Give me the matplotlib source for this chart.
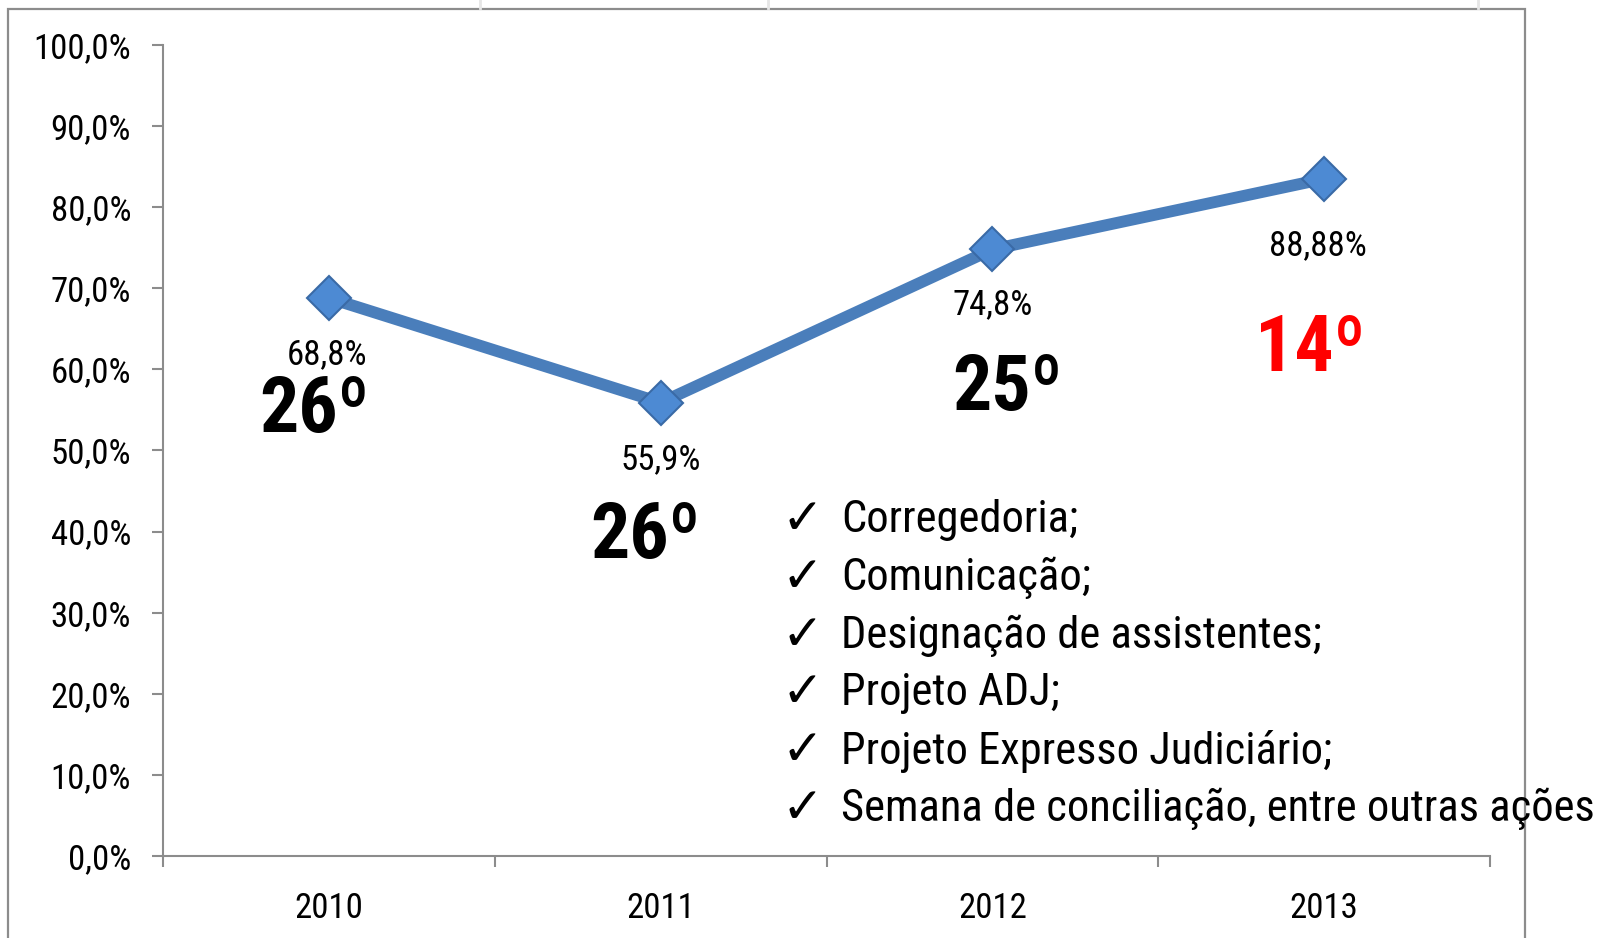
import matplotlib
matplotlib.use("Agg")
import matplotlib.pyplot as plt
from matplotlib.patches import Rectangle
from matplotlib.ticker import FuncFormatter

plt.rcParams['font.family'] = ['Liberation Sans Narrow', 'Roboto Condensed', 'Archivo Narrow',
                               'PT Sans Narrow', 'DejaVu Sans']

# data
years = ['2010', '2011', '2012', '2013']
values = [68.8, 55.9, 74.8, 83.5]
value_labels = ['68,8%', '55,9%', '74,8%', '88,88%']
ranks = ['26º', '26º', '25º', '14º']
rank_colors = ['black', 'black', 'black', '#ff0000']
actions = ['Corregedoria;', 'Comunicação;', 'Designação de assistentes;',
           'Projeto ADJ;', 'Projeto Expresso Judiciário;',
           'Semana de conciliação, entre outras ações']

W, H = 1602, 938
fig = plt.figure(figsize=(W / 100, H / 100), dpi=100)

# outer frame of the chart area
fig.patches.append(Rectangle((8 / W, -0.05), (1525 - 8) / W, 1.05 - 9 / H,
                             transform=fig.transFigure, fill=False,
                             edgecolor='#8c8c8c', lw=1.6))
for xp in [480, 768, 1478]:
    fig.add_artist(plt.Line2D([xp / W, xp / W], [1 - 8 / H, 1.0],
                              transform=fig.transFigure, color='#e6e6e6', lw=2))

ax = fig.add_axes([163 / W, 1 - 856 / H, (1490 - 163) / W, (856 - 45) / H])
x = list(range(len(years)))
ax.plot(x, values, color='#4a7ebb', lw=8.5, marker='D', markersize=22,
        markerfacecolor='#4d8ad3', markeredgecolor='#3a6aa6', markeredgewidth=1.5,
        solid_joinstyle='miter', zorder=3)

ax.set_xlim(-0.5, len(years) - 0.5)
ax.set_ylim(0, 100)
ax.set_yticks(range(0, 101, 10))
ax.yaxis.set_major_formatter(FuncFormatter(lambda v, p: f'{v:.1f}'.replace('.', ',') + '%'))
ax.set_xticks(x)
ax.set_xticklabels(years)
ax.set_xticks([i - 0.5 for i in range(len(years) + 1)], minor=True)
ax.tick_params(axis='x', which='major', length=0, pad=26, labelsize=25)
ax.tick_params(axis='x', which='minor', length=8, width=1.5, color='#8c8c8c', direction='out')
ax.tick_params(axis='y', length=8, width=1.5, color='#8c8c8c', pad=15, labelsize=25)
for s in ['top', 'right']:
    ax.spines[s].set_visible(False)
for s in ['left', 'bottom']:
    ax.spines[s].set_color('#8c8c8c')
    ax.spines[s].set_linewidth(1.5)
ax.patch.set_visible(False)

val_off = [(-2, -57), (0, -57), (0, -55), (-6, -67)]
rank_off = [(-15, -113), (-15, -134), (15, -140), (-14, -171)]
for i, v in enumerate(values):
    ax.annotate(value_labels[i], (i, v), xytext=val_off[i], textcoords='offset pixels',
                ha='center', va='center', fontsize=25)
    ax.annotate(ranks[i], (i, v), xytext=rank_off[i], textcoords='offset pixels',
                ha='center', va='center', fontsize=56, fontweight='bold',
                color=rank_colors[i])

for k, a in enumerate(actions):
    yy = 1 - (520 + 57.8 * k) / H
    fig.text(802 / W, yy, '✓', ha='center', va='center', fontsize=36,
             fontweight='bold', family='DejaVu Sans')
    fig.text(841 / W, yy, a, ha='left', va='center', fontsize=32)

fig.savefig('out.png', dpi=100)
